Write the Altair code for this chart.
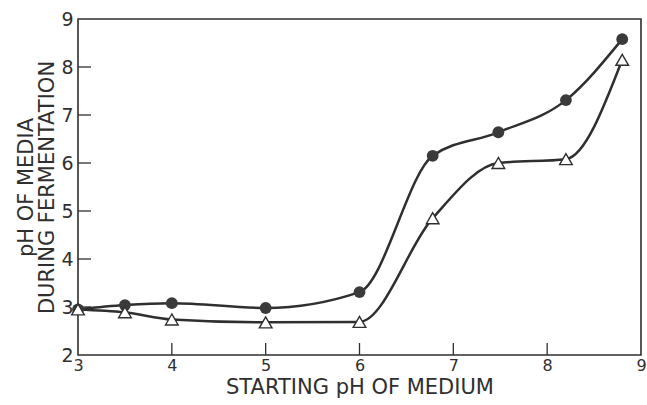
import altair as alt
import pandas as pd

# Starting pH of the medium (x) and pH measured during fermentation (y)
start_ph = [3.0, 3.5, 4.0, 5.0, 6.0, 6.78, 7.48, 8.2, 8.8]
ph_circles = [2.95, 3.04, 3.08, 2.98, 3.31, 6.15, 6.64, 7.31, 8.58]
ph_triangles = [2.95, 2.89, 2.74, 2.68, 2.69, 4.85, 6.0, 6.08, 8.15]

x_ticks = [3, 4, 5, 6, 7, 8, 9]
y_ticks = [2, 3, 4, 5, 6, 7, 8, 9]

INK = "#2f2f2f"
FONT = "DejaVu Sans"
W, H = 563, 336

circles = pd.DataFrame({"x": start_ph, "y": ph_circles})
triangles = pd.DataFrame({"x": start_ph, "y": ph_triangles})

xs = alt.Scale(domain=[3, 9], nice=False, zero=False)
ys = alt.Scale(domain=[2, 9], nice=False, zero=False)

x_axis = alt.Axis(values=x_ticks, format="d", tickSize=0, labelFontSize=16,
                  labelPadding=2, labelFlush=False, labelColor=INK, labelFont=FONT,
                  domain=False, grid=False,
                  title="STARTING pH OF MEDIUM", titleFontSize=21, titleFont=FONT,
                  titleFontWeight="normal", titleColor=INK, titlePadding=3)
y_axis = alt.Axis(values=y_ticks, format="d", tickSize=0, labelFontSize=19,
                  labelPadding=5, labelFlush=False, labelColor=INK, labelFont=FONT,
                  domain=False, grid=False,
                  title=["pH OF MEDIA", "DURING FERMENTATION"], titleFontSize=21,
                  titleFont=FONT, titleFontWeight="normal", titleColor=INK,
                  titleAlign="center", titleAnchor="middle",
                  titlePadding=3, titleLineHeight=21)

base_line = alt.Chart(circles).mark_line(
    interpolate="monotone", color=INK, strokeWidth=2.5
).encode(x=alt.X("x:Q", scale=xs, axis=x_axis), y=alt.Y("y:Q", scale=ys, axis=y_axis))

tri_line = alt.Chart(triangles).mark_line(
    interpolate="monotone", color=INK, strokeWidth=2.5
).encode(x=alt.X("x:Q", scale=xs), y=alt.Y("y:Q", scale=ys))

circle_pts = alt.Chart(circles).mark_point(
    shape="circle", filled=True, color="#3a3a3a", size=140, opacity=1
).encode(x=alt.X("x:Q", scale=xs), y=alt.Y("y:Q", scale=ys))

tri_pts = alt.Chart(triangles).mark_point(
    shape="triangle-up", filled=True, fill="white", stroke=INK, strokeWidth=1.4,
    size=160, opacity=1
).encode(x=alt.X("x:Q", scale=xs), y=alt.Y("y:Q", scale=ys))

# Inward-pointing tick marks along the bottom and left edges
xt = pd.DataFrame({"x": x_ticks[1:-1]})
yt = pd.DataFrame({"y": y_ticks[1:-1]})
x_tick_marks = alt.Chart(xt).mark_rule(color=INK, strokeWidth=1.3).encode(
    x=alt.X("x:Q", scale=xs), y=alt.value(H), y2=alt.value(H - 12))
y_tick_marks = alt.Chart(yt).mark_rule(color=INK, strokeWidth=1.3).encode(
    y=alt.Y("y:Q", scale=ys), x=alt.value(0), x2=alt.value(13))

chart = alt.layer(
    x_tick_marks, y_tick_marks, base_line, tri_line, circle_pts, tri_pts
).properties(
    width=W, height=H,
    autosize=alt.AutoSizeParams(type="none"),
    padding={"left": 78, "top": 19, "right": 6, "bottom": 50},
    background="white",
).configure_view(stroke=INK, strokeWidth=1.6)

chart.save("out.html", embed_options={"renderer": "svg", "actions": False})
